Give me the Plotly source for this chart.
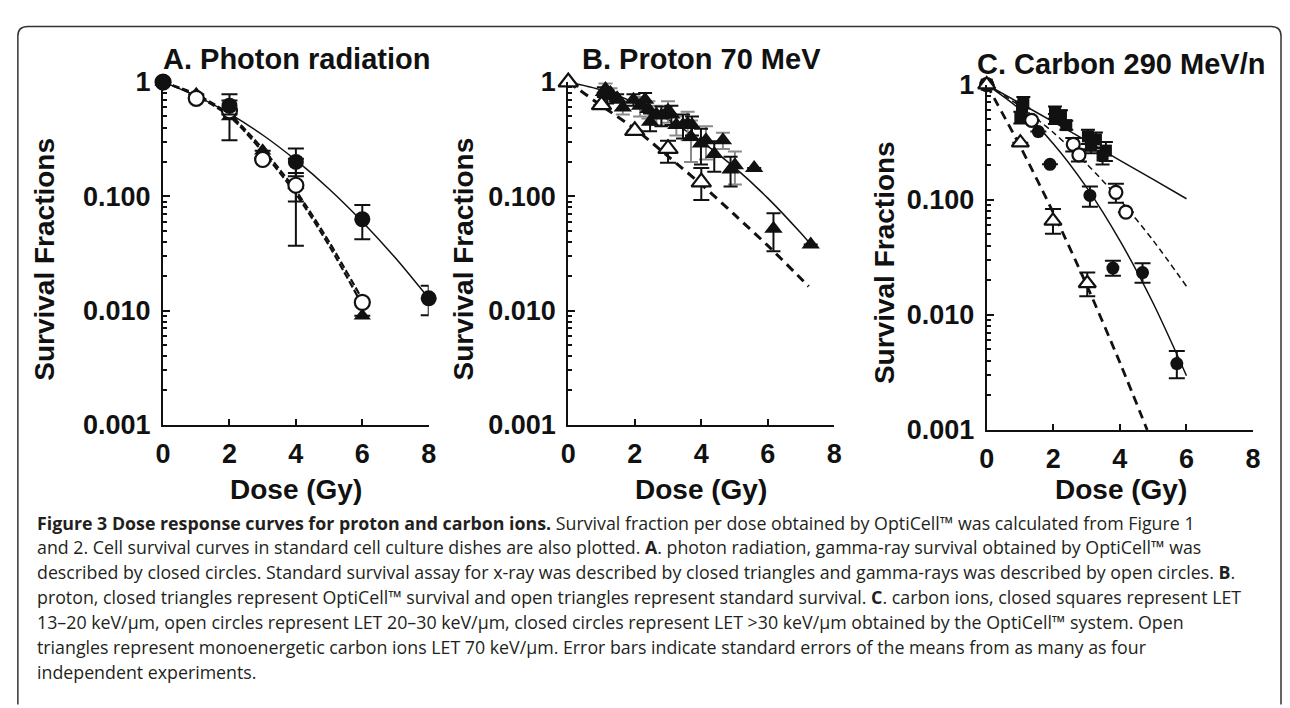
import plotly.graph_objects as go

# ---------------- DATA ----------------
# Panel A: photon radiation
A_gamma_opti_x = [0, 2, 4, 6, 8]
A_gamma_opti_y = [1.0, 0.62, 0.20, 0.063, 0.0128]
A_gamma_opti_ep = [0, 0.16, 0.062, 0.021, 0.0037]
A_gamma_opti_em = [0, 0.10, 0.05, 0.021, 0.0037]

A_xray_std_x = [0, 1, 2, 3, 4, 6]
A_xray_std_y = [1.0, 0.78, 0.50, 0.25, 0.125, 0.009]
A_xray_std_e = [0, 0, 0.19, 0, 0.088, 0]

A_gamma_std_x = [0, 1, 2, 3, 4, 6]
A_gamma_std_y = [1.0, 0.72, 0.56, 0.21, 0.125, 0.0118]
A_gamma_std_e = [0, 0, 0, 0, 0.035, 0]

A_fit_solid_x = [0, 1, 2, 3, 4, 5, 6, 7, 8]
A_fit_solid_y = [1.0, 0.756, 0.529, 0.344, 0.207, 0.116, 0.060, 0.0288, 0.0128]
A_fit_xray_x = [0, 1, 2, 3, 4, 5, 6]
A_fit_xray_y = [1.0, 0.76, 0.50, 0.245, 0.105, 0.037, 0.0112]
A_fit_gamma_x = [0, 1, 2, 3, 4, 5, 6]
A_fit_gamma_y = [1.0, 0.78, 0.52, 0.26, 0.112, 0.040, 0.0125]

# Panel B: proton 70 MeV
B_opti1_x = [0, 1.07, 1.17, 1.47, 1.96, 2.31, 2.46, 2.80, 3.10, 3.45, 3.72, 3.99, 4.39, 4.88, 5.59, 6.17, 7.29]
B_opti1_y = [1.0, 0.82, 0.75, 0.72, 0.70, 0.70, 0.45, 0.51, 0.52, 0.42, 0.42, 0.29, 0.234, 0.172, 0.177, 0.052, 0.0379]
B_opti1_e = [0, 0.08, 0.10, 0.06, 0.08, 0.10, 0.08, 0.10, 0.10, 0.10, 0.08, 0.10, 0.07, 0.05, 0, 0.019, 0]
B_opti2_x = [1.12, 1.27, 1.64, 2.16, 2.41, 2.65, 3.00, 3.25, 3.59, 3.69, 4.14, 4.65, 5.01]
B_opti2_y = [0.87, 0.80, 0.60, 0.62, 0.58, 0.52, 0.56, 0.42, 0.43, 0.33, 0.31, 0.309, 0.187]
B_opti2_e = [0.10, 0.08, 0.08, 0.12, 0.10, 0.10, 0.12, 0.08, 0.12, 0.13, 0.10, 0.05, 0.06]

B_std_x = [0, 1, 2, 3, 4]
B_std_y = [1.0, 0.63, 0.375, 0.261, 0.133]
B_std_ep = [0, 0, 0, 0.046, 0.044]
B_std_em = [0, 0, 0, 0.064, 0.040]

B_fit_opti_x = [0, 1, 2, 3, 4, 5, 6, 7, 7.29]
B_fit_opti_y = [1.0, 0.851, 0.661, 0.468, 0.303, 0.179, 0.0964, 0.0474, 0.0379]
B_fit_std_x = [0, 1, 2, 3, 4, 5, 6, 7, 7.23]
B_fit_std_y = [1.0, 0.62, 0.39, 0.224, 0.127, 0.069, 0.037, 0.019, 0.0163]

# Panel C: carbon 290 MeV/n
C_sq_x = [0, 1.01, 1.06, 1.10, 2.05, 2.05, 2.23, 2.39, 3.04, 3.13, 3.28, 3.48, 3.58]
C_sq_y = [1.0, 0.52, 0.63, 0.70, 0.574, 0.505, 0.54, 0.445, 0.355, 0.294, 0.334, 0.242, 0.267]
C_sq_e = [0, 0.06, 0.08, 0.08, 0.07, 0.05, 0.06, 0.04, 0.05, 0.04, 0.05, 0.04, 0.05]

C_oc_x = [0, 1.35, 2.60, 2.77, 3.88, 4.18]
C_oc_y = [1.0, 0.49, 0.303, 0.245, 0.116, 0.078]
C_oc_e = [0, 0, 0.04, 0.03, 0.022, 0]

C_cc_x = [0, 1.55, 1.90, 3.10, 3.79, 4.68, 5.71]
C_cc_y = [1.0, 0.391, 0.203, 0.109, 0.0255, 0.0233, 0.00377]
C_cc_ep = [0, 0, 0, 0.021, 0.004, 0.0047, 0.00107]
C_cc_em = [0, 0, 0, 0.022, 0.0036, 0.0043, 0.00096]

C_ot_x = [0, 1.01, 1.99, 3.02]
C_ot_y = [1.0, 0.313, 0.0655, 0.0188]
C_ot_ep = [0, 0, 0.0175, 0.0045]
C_ot_em = [0, 0, 0.0149, 0.0043]

C_fit_sq_x = [0, 1, 2, 3, 4, 5, 6]
C_fit_sq_y = [1.0, 0.69, 0.475, 0.325, 0.22, 0.15, 0.102]
C_fit_oc_x = [0, 1, 2, 3, 4, 5, 6]
C_fit_oc_y = [1.0, 0.65, 0.384, 0.205, 0.10, 0.0442, 0.0177]
C_fit_cc_x = [0, 1, 2, 3, 4, 5, 6]
C_fit_cc_y = [1.0, 0.609, 0.307, 0.128, 0.0441, 0.0126, 0.00296]
C_fit_ot_x = [0, 1, 2, 3, 4, 4.82]
C_fit_ot_y = [1.0, 0.293, 0.077, 0.0182, 0.00385, 0.001]

x_ticks = [0, 2, 4, 6, 8]
y_tickvals = [0.001, 0.01, 0.1, 1]
y_ticktext = ["0.001", "0.010", "0.100", "1"]
panel_titles = ["A. Photon radiation", "B. Proton 70 MeV", "C. Carbon 290 MeV/n"]
x_title = "Dose (Gy)"
y_title = "Survival Fractions"

caption_lines = [
    "<b>Figure 3 Dose response curves for proton and carbon ions.</b> Survival fraction per dose obtained by OptiCell™ was calculated from Figure 1",
    "and 2. Cell survival curves in standard cell culture dishes are also plotted. <b>A</b>. photon radiation, gamma-ray survival obtained by OptiCell™ was",
    "described by closed circles. Standard survival assay for x-ray was described by closed triangles and gamma-rays was described by open circles. <b>B</b>.",
    "proton, closed triangles represent OptiCell™ survival and open triangles represent standard survival. <b>C</b>. carbon ions, closed squares represent LET",
    "13–20 keV/μm, open circles represent LET 20–30 keV/μm, closed circles represent LET >30 keV/μm obtained by the OptiCell™ system. Open",
    "triangles represent monoenergetic carbon ions LET 70 keV/μm. Error bars indicate standard errors of the means from as many as four",
    "independent experiments.",
]

# ---------------- FIGURE ----------------
W, H = 1290, 708
BLK = "#111111"
GRY = "#8a8a8a"

def px(x):
    return x / W

def py(y):
    return 1 - y / H

fig = go.Figure()

def curve(x, y, ax, dash="solid", width=1.5):
    fig.add_trace(go.Scatter(x=x, y=y, mode="lines", xaxis=ax[0], yaxis=ax[1],
                             line=dict(color=BLK, width=width, dash=dash, shape="spline", smoothing=0.8),
                             showlegend=False, hoverinfo="skip"))

def pts(x, y, ax, symbol, size, ep=None, em=None, ecolor=BLK, open_=False, ew=7):
    err = None
    if ep is not None:
        err = dict(type="data", array=ep, arrayminus=em if em is not None else ep,
                   color=ecolor, thickness=2, width=ew, visible=True)
    marker = dict(symbol=symbol, size=size, color="white" if open_ else BLK,
                  line=dict(color=BLK, width=2.2 if open_ else 0))
    fig.add_trace(go.Scatter(x=x, y=y, mode="markers", xaxis=ax[0], yaxis=ax[1],
                             marker=marker, error_y=err, cliponaxis=False,
                             showlegend=False))

A = ("x", "y")
B = ("x2", "y2")
C = ("x3", "y3")

# Panel A
curve(A_fit_solid_x, A_fit_solid_y, A, "solid", 1.5)
curve(A_fit_xray_x, A_fit_xray_y, A, "7px,3px", 2.2)
curve(A_fit_gamma_x, A_fit_gamma_y, A, "7px,3px", 2.2)
pts(A_xray_std_x, A_xray_std_y, A, "triangle-up", 15, A_xray_std_e, ew=8)
pts(A_gamma_std_x, A_gamma_std_y, A, "circle", 15, A_gamma_std_e, open_=True, ew=8)
pts(A_gamma_opti_x, A_gamma_opti_y, A, "circle", 16, A_gamma_opti_ep, A_gamma_opti_em, ew=8)

# Panel B
curve(B_fit_opti_x, B_fit_opti_y, B, "solid", 1.5)
curve(B_fit_std_x, B_fit_std_y, B, "9px,6px", 3)
pts(B_opti2_x, B_opti2_y, B, "triangle-up", 16, B_opti2_e, ecolor=GRY)
pts(B_opti1_x, B_opti1_y, B, "triangle-up", 16, B_opti1_e)
pts(B_std_x, B_std_y, B, "triangle-up", 17, B_std_ep, B_std_em, open_=True, ew=8)

# Panel C
curve(C_fit_sq_x, C_fit_sq_y, C, "solid", 1.5)
curve(C_fit_oc_x, C_fit_oc_y, C, "6px,4px", 1.5)
curve(C_fit_cc_x, C_fit_cc_y, C, "solid", 1.5)
curve(C_fit_ot_x, C_fit_ot_y, C, "9px,6px", 2.8)
pts(C_sq_x, C_sq_y, C, "square", 12, C_sq_e)
pts(C_oc_x, C_oc_y, C, "circle", 13, C_oc_e, open_=True, ew=8)
pts(C_cc_x, C_cc_y, C, "circle", 13, C_cc_ep, C_cc_em, ew=8)
pts(C_ot_x, C_ot_y, C, "triangle-up", 15, C_ot_ep, C_ot_em, open_=True, ew=8)

tickfont = dict(family="Liberation Sans, Arial, sans-serif", size=27, color=BLK, weight="bold")
minor_vals = [m * 10 ** e for e in (-3, -2, -1) for m in range(2, 10)]

def xaxis(dom, anchor):
    return dict(domain=dom, anchor=anchor, range=[0, 8], tickvals=x_ticks, ticks="inside",
                ticklen=6, tickwidth=2, tickcolor=BLK, showline=True, linecolor=BLK, linewidth=2,
                showgrid=False, zeroline=False, tickfont=tickfont, ticklabelstandoff=4)

def yaxis(dom, anchor):
    return dict(domain=dom, anchor=anchor, type="log", range=[-3, 0], tickvals=y_tickvals,
                ticktext=y_ticktext, ticks="inside", ticklen=7, tickwidth=2, tickcolor=BLK,
                showline=True, linecolor=BLK, linewidth=2, showgrid=False, zeroline=False,
                tickfont=tickfont, ticklabelstandoff=5,
                minor=dict(tickvals=minor_vals, ticks="inside", ticklen=4, tickwidth=1.5,
                           tickcolor=BLK, showgrid=False))

yA = [py(428), py(70)]
yC = [py(433.3), py(72.7)]
fig.update_layout(
    width=W, height=H, margin=dict(l=0, r=0, t=0, b=0),
    paper_bgcolor="white", plot_bgcolor="white", showlegend=False,
    xaxis=xaxis([px(157), px(426)], "y"),
    yaxis=yaxis(yA, "x"),
    xaxis2=xaxis([px(567.3), px(836.7)], "y2"),
    yaxis2=yaxis(yA, "x2"),
    xaxis3=xaxis([px(991), px(1260.7)], "y3"),
    yaxis3=yaxis(yC, "x3"),
)

labfont = dict(family="Liberation Sans, Arial, sans-serif", size=28, color=BLK, weight="bold")
titlefont = dict(family="Liberation Sans, Arial, sans-serif", size=29, color=BLK, weight="bold")
ann = []
for t, cx, cy in zip(panel_titles, [292.5, 702.5, 1126.5], [46, 46, 51]):
    ann.append(dict(text=t, x=px(cx), y=py(cy), xref="paper", yref="paper", showarrow=False,
                    xanchor="center", yanchor="middle", font=titlefont))
for cx in [292, 702, 1127]:
    ann.append(dict(text=x_title, x=px(cx), y=py(495), xref="paper", yref="paper", showarrow=False,
                    xanchor="center", yanchor="middle", font=labfont))
for cx, cy in [(37, 255), (461, 255), (887, 258)]:
    ann.append(dict(text=y_title, x=px(cx), y=py(cy), xref="paper", yref="paper", showarrow=False,
                    xanchor="center", yanchor="middle", textangle=-90, font=labfont))
capfont = dict(family="Open Sans, sans-serif", size=17.8, color="#231f20")
for i, line in enumerate(caption_lines):
    ann.append(dict(text=line, x=px(27), y=py(530 + 26 * i), xref="paper", yref="paper",
                    showarrow=False, xanchor="left", yanchor="middle", font=capfont, align="left"))
fig.update_layout(annotations=ann)

# frame with rounded corners
fig.add_shape(type="path", xref="paper", yref="paper",
              path=(f"M {px(10)} {py(720)} L {px(10)} {py(22)} Q {px(10)} {py(12)} {px(20)} {py(12)} "
                    f"L {px(1279)} {py(12)} Q {px(1289)} {py(12)} {px(1289)} {py(22)} L {px(1289)} {py(720)}"),
              line=dict(color="#333333", width=1.5))

fig.write_html("out.html", config={"displayModeBar": False},
               post_script="document.body.style.margin='0';document.body.style.padding='0';")
